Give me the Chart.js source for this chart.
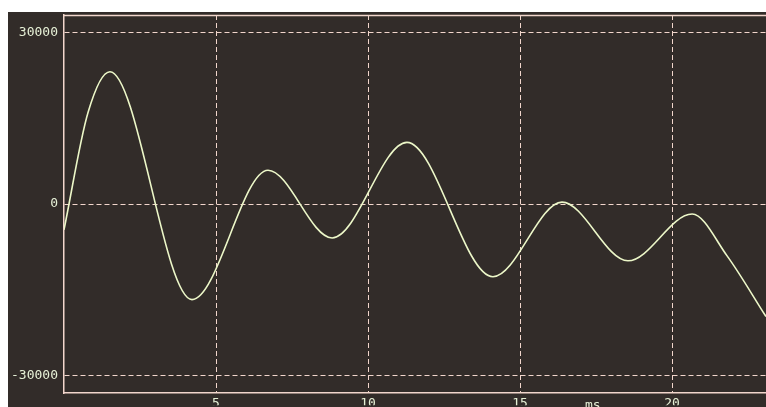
<!DOCTYPE html>
<html>
<head>
<meta charset="utf-8">
<script src="https://cdn.jsdelivr.net/npm/chart.js@4"></script>
<style>
  html, body { margin: 0; padding: 0; background: #fff; overflow: hidden; }
  #wrap { width: 766px; height: 407px; position: relative; }
</style>
</head>
<body>
<div id="wrap"><canvas id="scope" width="766" height="407"></canvas></div>
<script>
// turning points (time in ms, amplitude in counts)
const timeMs = [0, 0.79, 1.51, 4.21, 6.71, 8.82, 11.28, 14.11, 16.38, 18.55, 20.66, 21.81, 23.09];
const amplitude = [-4500, 16050, 23200, -16740, 5930, -5930, 10810, -12730, 350, -9940, -1740, -9070, -19710];
const yTicks = [-30000, 0, 30000];
const xTicks = [5, 10, 15, 20];
const xUnit = 'ms';

const gridColor = '#f2d6cc';
const labelColor = '#e6f0d6';
const labelFont = { family: 'DejaVu Sans Mono', size: 13 };

const scopeBackground = {
  id: 'scopeBackground',
  beforeDraw(chart) {
    const ctx = chart.ctx;
    ctx.save();
    ctx.fillStyle = '#322c29';
    ctx.fillRect(8, 12, chart.width - 8, chart.height - 12);
    ctx.restore();
  },
  afterDraw(chart) {
    const ctx = chart.ctx;
    const area = chart.chartArea;
    ctx.save();
    // top frame line
    ctx.strokeStyle = gridColor;
    ctx.lineWidth = 1.5;
    ctx.beginPath();
    ctx.moveTo(area.left, area.top + 0.5);
    ctx.lineTo(area.right, area.top + 0.5);
    ctx.stroke();
    // unit label under the x axis
    ctx.fillStyle = labelColor;
    ctx.font = '13px "DejaVu Sans Mono"';
    ctx.textBaseline = 'top';
    ctx.fillText(xUnit, 585, 399);
    ctx.restore();
  }
};

new Chart(document.getElementById('scope'), {
  type: 'line',
  data: {
    datasets: [{
      data: timeMs.map((t, i) => ({ x: t, y: amplitude[i] })),
      borderColor: '#ecf7c8',
      borderWidth: 1.6,
      pointRadius: 0,
      fill: false,
      cubicInterpolationMode: 'monotone'
    }]
  },
  options: {
    responsive: false,
    animation: false,
    devicePixelRatio: 1,
    layout: { padding: { top: 15, left: 0, right: 0, bottom: 0 } },
    plugins: { legend: { display: false }, tooltip: { enabled: false } },
    scales: {
      x: {
        type: 'linear',
        min: 0,
        max: 23.09,
        afterBuildTicks: (scale) => { scale.ticks = xTicks.map(v => ({ value: v })); },
        afterFit: (scale) => { scale.height = 12; },
        ticks: { color: labelColor, font: labelFont, padding: 3, maxRotation: 0, callback: (v) => String(v) },
        grid: { color: gridColor, lineWidth: 1, drawTicks: false },
        border: { display: true, color: gridColor, width: 1.5, dash: [5, 3] }
      },
      y: {
        min: -33140,
        max: 33140,
        afterBuildTicks: (scale) => { scale.ticks = yTicks.map(v => ({ value: v })); },
        afterFit: (scale) => { scale.width = 64; },
        ticks: { color: labelColor, font: labelFont, padding: 6, callback: (v) => String(v) },
        grid: { color: gridColor, lineWidth: 1, drawTicks: false },
        border: { display: true, color: gridColor, width: 1.5, dash: [5, 3] }
      }
    }
  },
  plugins: [scopeBackground]
});
</script>
</body>
</html>
